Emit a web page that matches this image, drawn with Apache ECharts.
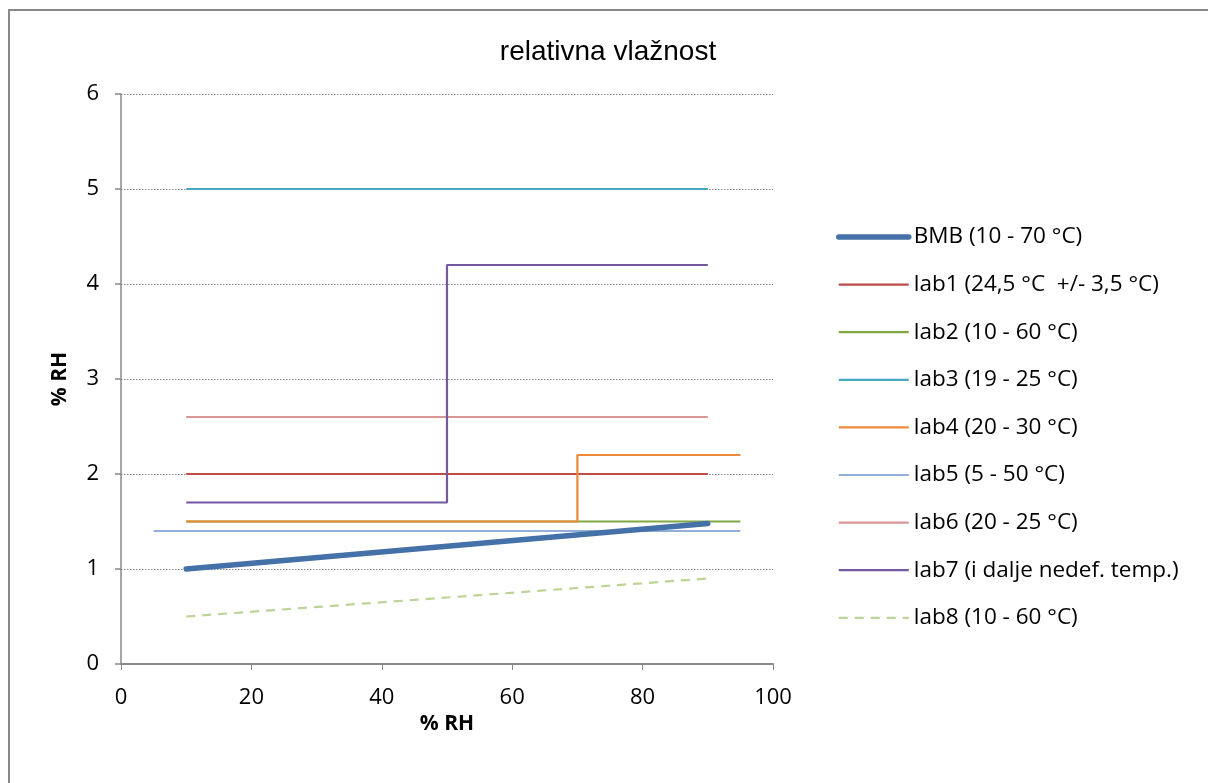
<!DOCTYPE html>
<html>
<head>
<meta charset="utf-8">
<script src="https://cdn.jsdelivr.net/npm/echarts@6/dist/echarts.min.js"></script>
<style>html,body{margin:0;padding:0;background:#fff;}#c{width:1208px;height:783px;}</style>
</head>
<body>
<div id="c"></div>
<script>
const title = 'relativna vlažnost';
const xTicks = [0, 20, 40, 60, 80, 100];
const yTicks = [0, 1, 2, 3, 4, 5, 6];
const names = ['BMB (10 - 70 °C)', 'lab1 (24,5 °C  +/- 3,5 °C)', 'lab2 (10 - 60 °C)', 'lab3 (19 - 25 °C)', 'lab4 (20 - 30 °C)', 'lab5 (5 - 50 °C)', 'lab6 (20 - 25 °C)', 'lab7 (i dalje nedef. temp.)', 'lab8 (10 - 60 °C)'];
const bmb  = [[10, 1.0], [90, 1.48]];
const lab1 = [[10, 2.0], [90, 2.0]];
const lab2 = [[10, 1.5], [95, 1.5]];
const lab3 = [[10, 5.0], [90, 5.0]];
const lab4 = [[10, 1.5], [70, 1.5], [70, 2.2], [95, 2.2]];
const lab5 = [[5, 1.4], [95, 1.4]];
const lab6 = [[10, 2.6], [90, 2.6]];
const lab7 = [[10, 1.7], [50, 1.7], [50, 4.2], [90, 4.2]];
const lab8 = [[10, 0.5], [90, 0.9]];

const datasets = [bmb, lab1, lab2, lab3, lab4, lab5, lab6, lab7, lab8];
const colors = ['#4471A8', '#BE4B48', '#7FA843', '#47A7C1', '#EC8A3C', '#92AEDA', '#D99694', '#7558A0', '#BDD497'];
const widths = [5.5, 2.2, 2.2, 2.2, 2.2, 2.2, 2.2, 2.2, 2.2];
const dashed = [false, false, false, false, false, false, false, false, true];
const z = [10, 3, 2, 3, 4, 3, 3, 3, 3];

const chart = echarts.init(document.getElementById('c'));
const font = '"Open Sans", "Noto Sans", sans-serif';
chart.setOption({
  animation: false,
  backgroundColor: '#fff',
  title: {
    text: title, left: 603, top: 33, textAlign: 'center',
    textStyle: { fontFamily: '"Liberation Sans", Arial, sans-serif', fontSize: 28, fontWeight: 'normal', color: '#000' }
  },
  graphic: [{
    type: 'rect', shape: { x: 9, y: 10, width: 1400, height: 1000 },
    style: { fill: 'none', stroke: '#888', lineWidth: 2 }, silent: true
  }],
  grid: { left: 121, right: 435, top: 94, bottom: 119, containLabel: false },
  legend: {
    orient: 'vertical', left: 831, top: 220,
    itemWidth: 70, itemHeight: 14, itemGap: 23.6,
    data: names,
    itemStyle: { opacity: 0 },
    lineStyle: { width: 'inherit', type: 'inherit' },
    textStyle: { fontFamily: font, fontSize: 22.5, color: '#000', lineHeight: 24 }
  },
  xAxis: {
    type: 'value', min: 0, max: 100, interval: 20,
    name: '% RH', nameLocation: 'middle', nameGap: 44,
    nameTextStyle: { fontFamily: font, fontSize: 21, fontWeight: 'bold', color: '#000' },
    axisLine: { lineStyle: { color: '#888', width: 2 } },
    axisTick: { show: true, inside: false, length: 6, lineStyle: { color: '#888', width: 1 } },
    axisLabel: { fontFamily: font, fontSize: 22, color: '#000', margin: 23 },
    splitLine: { show: false }
  },
  yAxis: {
    type: 'value', min: 0, max: 6, interval: 1,
    name: '% RH', nameLocation: 'middle', nameGap: 50,
    nameTextStyle: { fontFamily: font, fontSize: 21, fontWeight: 'bold', color: '#000' },
    axisLine: { show: true, lineStyle: { color: '#888', width: 1.5 } },
    axisTick: { show: true, inside: false, length: 6, lineStyle: { color: '#888', width: 1.5 } },
    axisLabel: { fontFamily: font, fontSize: 22, color: '#000', margin: 22 },
    splitLine: { show: true, lineStyle: { color: '#888', width: 1, type: [1.5, 1.5] } }
  },
  series: datasets.map((d, i) => ({
    name: names[i], type: 'line', data: d, z: z[i],
    showSymbol: false, symbol: 'none',
    color: colors[i],
    lineStyle: { color: colors[i], width: widths[i], type: dashed[i] ? [9, 7] : 'solid', cap: i === 0 ? 'round' : 'butt' }
  }))
});
</script>
</body>
</html>
